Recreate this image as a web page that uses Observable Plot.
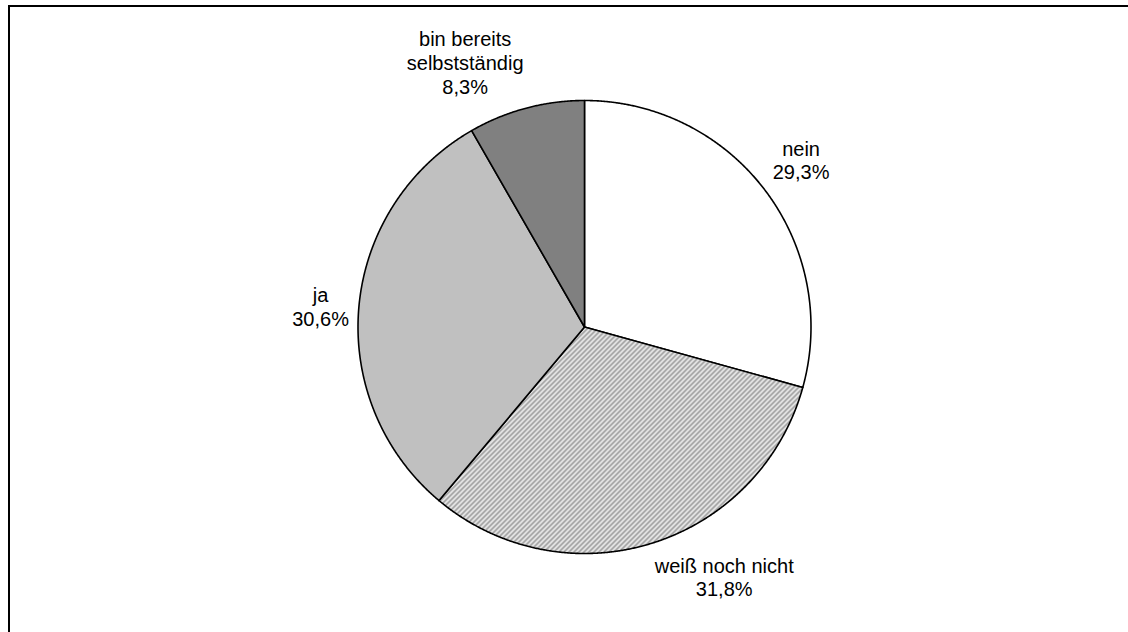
<!DOCTYPE html>
<html>
<head>
<meta charset="utf-8">
<script src="https://cdn.jsdelivr.net/npm/d3@7"></script>
<script src="https://cdn.jsdelivr.net/npm/@observablehq/plot@0.6"></script>
<style>
  html, body { margin: 0; padding: 0; background: #fff; overflow: hidden; }
  #wrap { position: relative; width: 1128px; height: 632px; }
  #frame { position: absolute; left: 8px; top: 5px; right: -20px; bottom: -20px;
           border-top: 2px solid #000; border-left: 2px solid #000; pointer-events: none; }
  svg { display: block; }
</style>
</head>
<body>
<div id="wrap"><div id="chart"></div><div id="frame"></div></div>
<script>
// ---- data ----
const categories = ["nein", "weiß noch nicht", "ja", "bin bereits selbstständig"];
const labelLines = [["nein"], ["weiß noch nicht"], ["ja"], ["bin bereits", "selbstständig"]];
const shares = [29.3, 31.8, 30.6, 8.3];

// ---- style / layout ----
const fills = ["#ffffff", "url(#hatch)", "#c0c0c0", "#808080"];
const W = 1128, H = 632;
const cx = 584, cy = 326.5, R = 226.5;
const fontSize = 20, lineH = 1.2, labelGap = 10;
const font = `${fontSize}px 'Liberation Sans', Arial, sans-serif`;

const total = d3.sum(shares);
const fmt = v => v.toFixed(1).replace(".", ",") + "%";

// slice polygons (angles clockwise from 12 o'clock)
const polys = [];
const labels = [];
const ctx = document.createElement("canvas").getContext("2d");
ctx.font = font;
let acc = 0;
shares.forEach((v, i) => {
  const a0 = acc / total * 2 * Math.PI;
  acc += v;
  const a1 = acc / total * 2 * Math.PI;
  const n = Math.max(2, Math.ceil((a1 - a0) / (Math.PI / 720)));
  polys.push({slice: i, x: cx, y: cy, fill: fills[i]});
  for (let k = 0; k <= n; k++) {
    const a = a0 + (a1 - a0) * k / n;
    polys.push({slice: i, x: cx + R * Math.sin(a), y: cy - R * Math.cos(a), fill: fills[i]});
  }
  polys.push({slice: i, x: cx, y: cy, fill: fills[i]});

  // label box placement (outside end, box corner touching circle at mid-angle)
  const am = (a0 + a1) / 2;
  const dx = Math.sin(am), dy = -Math.cos(am);
  const px = cx + (R + labelGap) * dx, py = cy + (R + labelGap) * dy;
  const lines = [...labelLines[i], fmt(v)];
  const w = d3.max(lines, s => ctx.measureText(s).width);
  const h = lines.length * fontSize * lineH;
  const u = dx > 0.2 ? 0 : dx < -0.2 ? 1 : 0.5;
  const t = dy > 0.2 ? 0 : dy < -0.2 ? 1 : 0.5;
  labels.push({text: lines.join("\n"), x: px - u * w + w / 2, y: py - t * h + h / 2});
});

const svg = Plot.plot({
  width: W, height: H, margin: 0,
  x: {domain: [0, W], axis: null},
  y: {domain: [0, H], reverse: true, axis: null},
  color: {type: "identity"},
  style: {background: "transparent", fontFamily: "'Liberation Sans', Arial, sans-serif"},
  marks: [
    Plot.line(polys, {x: "x", y: "y", z: "slice", fill: "fill", stroke: "#000",
                      strokeWidth: 1.6, strokeLinejoin: "round", curve: "linear"}),
    Plot.text(labels, {x: "x", y: "y", text: "text", fontSize: fontSize, lineHeight: lineH,
                       textAnchor: "middle", lineAnchor: "middle", fill: "#000"})
  ]
});

// hatch pattern
const NS = "http://www.w3.org/2000/svg";
const defs = document.createElementNS(NS, "defs");
const pat = document.createElementNS(NS, "pattern");
pat.setAttribute("id", "hatch");
pat.setAttribute("patternUnits", "userSpaceOnUse");
pat.setAttribute("width", "5");
pat.setAttribute("height", "5");
const bg = document.createElementNS(NS, "rect");
bg.setAttribute("width", "5"); bg.setAttribute("height", "5"); bg.setAttribute("fill", "#f4f4f4");
const ln = document.createElementNS(NS, "path");
ln.setAttribute("d", "M-1,1 l2,-2 M0,5 l5,-5 M4,6 l2,-2");
ln.setAttribute("stroke", "#999999");
ln.setAttribute("stroke-width", "1.8");
pat.appendChild(bg); pat.appendChild(ln); defs.appendChild(pat);
svg.insertBefore(defs, svg.firstChild);

document.getElementById("chart").appendChild(svg);
</script>
</body>
</html>
